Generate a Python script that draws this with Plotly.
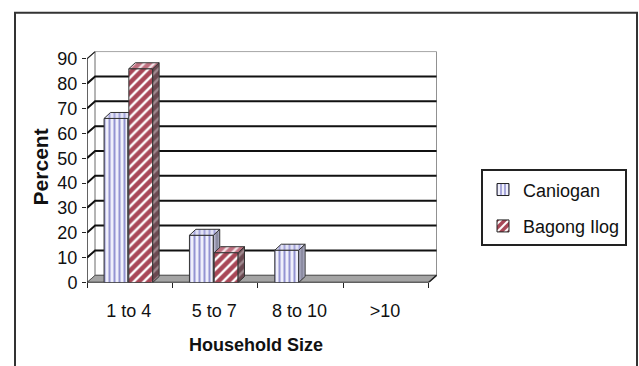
import plotly.graph_objects as go

# ---- data ----
categories = ["1 to 4", "5 to 7", "8 to 10", ">10"]
caniogan = [66, 19, 13, 0]
bagong_ilog = [86, 12, 0, 0]
y_ticks = [0, 10, 20, 30, 40, 50, 60, 70, 80, 90]
series_names = ["Caniogan", "Bagong Ilog"]

# ---- page geometry (pixels) ----
W, H = 639, 366
PL, PR, PT, PB = 87, 437, 51, 290          # plot area
N = len(categories)
X_MAX = 4.1
Y_MAX = 93.0

# 3-D look: depth offsets of walls and of bar boxes (data units)
DX, DY = 0.095, 2.9
BDX, BDY = 0.075, 2.4
BAR_W = 0.28
BAR_OFF = [0.20, 0.49]                      # left edge of each series inside a category


def px(x):
    return x / W


def py(y):
    return 1 - y / H


fig = go.Figure()


def poly(xs, ys, fill, line="#333333", lw=1, pattern=None):
    kw = dict(x=xs + [xs[0]], y=ys + [ys[0]], mode="lines", fill="toself",
              fillcolor=fill, line=dict(color=line, width=lw),
              hoverinfo="skip", showlegend=False, cliponaxis=False)
    if pattern:
        kw["fillpattern"] = pattern
    fig.add_trace(go.Scatter(**kw))


def path(xs, ys, color, width):
    fig.add_trace(go.Scatter(x=xs, y=ys, mode="lines",
                             line=dict(color=color, width=width),
                             hoverinfo="skip", showlegend=False, cliponaxis=False))


top = y_ticks[-1]

# left side wall and back wall
poly([0, DX, DX, 0], [0, DY, top + DY, top], "white", line="#8a8a8a")
poly([DX, N + DX, N + DX, DX], [DY, DY, top + DY, top + DY], "white", line="#8a8a8a")

# gridlines running along the side wall and across the back wall
for v in y_ticks[1:-1]:
    path([0, DX, N + DX], [v, v + DY, v + DY], "#111111", 2)

# floor
poly([0, N, N + DX, DX], [0, 0, DY, DY], "#a4a4a4", line="#555555")

# front axis lines
path([DX, 0, 0], [top + DY, top, 0], "#222222", 1.2)
path([0, N, N + DX], [0, 0, DY], "#222222", 1.5)

styles = [
    dict(front=dict(shape="|", bgcolor="#f0f0fb", fgcolor="#9494d2", size=5, solidity=0.4, fillmode="replace"),
         side=dict(shape="|", bgcolor="#8c8ca2", fgcolor="#b4b4cc", size=5, solidity=0.4, fillmode="replace"),
         top=dict(shape="|", bgcolor="#e2e2f4", fgcolor="#a6a6dc", size=5, solidity=0.4, fillmode="replace")),
    dict(front=dict(shape="/", bgcolor="#a84757", fgcolor="#ffffff", size=7, solidity=0.35, fillmode="replace"),
         side=dict(shape="/", bgcolor="#6a4850", fgcolor="#a08a90", size=7, solidity=0.35, fillmode="replace"),
         top=dict(shape="/", bgcolor="#c07080", fgcolor="#f4e4e8", size=7, solidity=0.35, fillmode="replace")),
]

# bars: front, side and top faces, drawn from the values
for i in range(N):
    for s, values in enumerate([caniogan, bagong_ilog]):
        v = values[i]
        if v <= 0:
            continue
        x0 = i + BAR_OFF[s]
        x1 = x0 + BAR_W
        st = styles[s]
        poly([x0, x1, x1, x0], [0, 0, v, v], "white", pattern=st["front"])
        poly([x1, x1 + BDX, x1 + BDX, x1], [0, BDY, v + BDY, v], "white", pattern=st["side"])
        poly([x0, x1, x1 + BDX, x0 + BDX], [v, v, v + BDY, v + BDY], "white", pattern=st["top"])

# legend entries
for s, name in enumerate(series_names):
    fig.add_trace(go.Bar(x=[None], y=[None], name=name, legendgroup=name,
                         marker=dict(color=styles[s]["front"]["bgcolor"],
                                     line=dict(color="#222222", width=1),
                                     pattern=styles[s]["front"])))

# boundary tick marks on the category axis
fig.add_trace(go.Scatter(x=[None], y=[None], xaxis="x2", showlegend=False, hoverinfo="skip"))

font = "Arial, Liberation Sans, sans-serif"
fig.update_layout(
    width=W, height=H,
    margin=dict(l=0, r=0, t=0, b=0),
    paper_bgcolor="white", plot_bgcolor="rgba(0,0,0,0)",
    font=dict(family=font, size=17, color="#111111"),
    xaxis=dict(domain=[px(PL), px(PR)], range=[0, X_MAX],
               tickvals=[i + 0.49 for i in range(N)], ticktext=categories,
               ticks="", showgrid=False, zeroline=False, showline=False,
               ticklabelstandoff=16,
               tickfont=dict(size=18), fixedrange=True),
    xaxis2=dict(domain=[px(PL), px(PR)], range=[0, X_MAX], overlaying="x",
                anchor="y", side="bottom",
                tickvals=list(range(N + 1)), ticks="outside", ticklen=5,
                tickcolor="#222222", tickwidth=1.2, showticklabels=False,
                showgrid=False, zeroline=False, showline=False),
    yaxis=dict(domain=[py(PB), py(PT)], range=[0, Y_MAX],
               tickvals=y_ticks, ticks="outside", ticklen=4,
               tickcolor="#222222", tickwidth=1.2,
               showgrid=False, zeroline=False, showline=False,
               ticklabelstandoff=1,
               tickfont=dict(size=18), fixedrange=True),
    showlegend=True,
    legend=dict(x=px(481), y=py(173), xanchor="left", yanchor="top",
                bgcolor="white", bordercolor="#222222", borderwidth=2,
                font=dict(size=18, color="#111111"),
                traceorder="grouped", tracegroupgap=10,
                itemwidth=30),
    annotations=[
        dict(text="<b>Percent</b>", textangle=-90, x=px(40), y=py(171),
             xanchor="center", yanchor="middle",
             xref="paper", yref="paper", showarrow=False,
             font=dict(size=21, family=font)),
        dict(text="<b>Household Size</b>", x=px(256), y=py(355),
             xanchor="center", yanchor="middle",
             xref="paper", yref="paper", showarrow=False,
             font=dict(size=18, family=font)),
    ],
    shapes=[
        dict(type="rect", xref="paper", yref="paper",
             x0=px(15), x1=px(637), y0=-0.1, y1=py(11),
             line=dict(color="#333333", width=2)),
    ],
)

fig.write_html("out.html")
